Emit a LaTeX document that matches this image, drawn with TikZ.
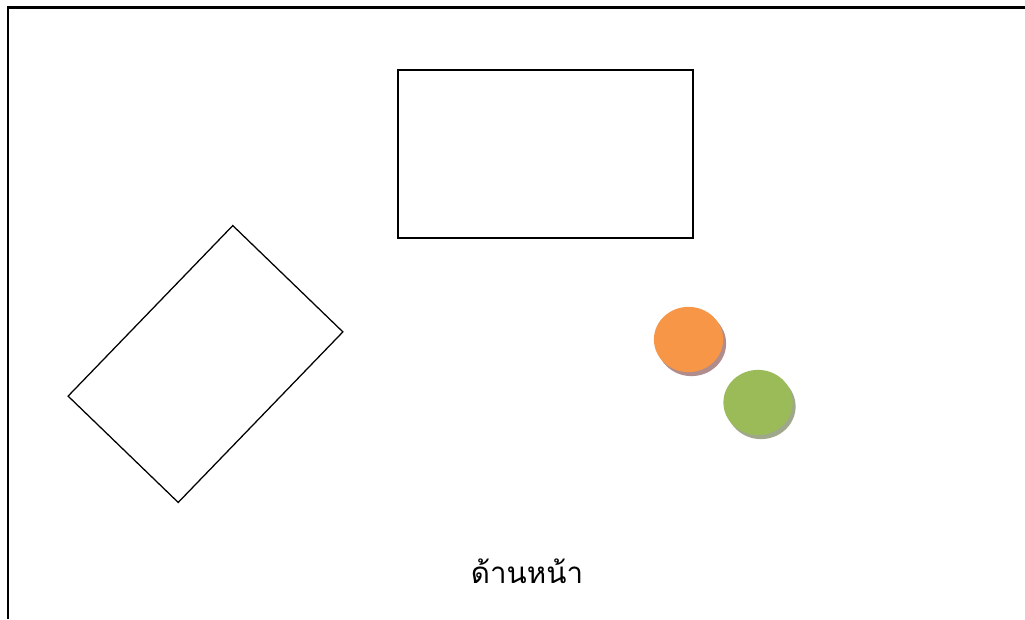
\documentclass[tikz,border=0pt]{standalone}
\usepackage{fontspec}
\newfontfamily\thaifont[Script=Thai]{Loma}
\usetikzlibrary{positioning,shapes.geometric}
\definecolor{tangerine}{RGB}{247,150,70}
\definecolor{olive}{RGB}{155,187,89}
\definecolor{rosedust}{RGB}{176,140,140}
\definecolor{sage}{RGB}{160,168,140}
\tikzset{
  frame/.style={line width=1.8pt,black},
  plate/.style={draw,line width=0.9pt,minimum width=#1},
  plate/.default=7.375cm,
  puck/.style={ellipse,fill=#1,minimum width=1.73cm,minimum height=1.63cm,inner sep=0pt},
  label/.style={font=\thaifont\fontsize{21}{25}\selectfont,inner sep=0pt},
}
\begin{document}
\begin{tikzpicture}[x=0.025cm,y=-0.025cm]
  \useasboundingbox (0,0) rectangle (1025,619);
  \draw[frame] (8,619) -- (8,7.5) -- (1025,7.5);
  % tables
  \node[plate,minimum height=4.2cm] (table) at (545.5,154) {};
  \node[plate=5.925cm,minimum height=3.825cm,rotate=46] (desk) at (205.5,364) {};
  % seats with shadow
  \node[puck=rosedust] (orangeshadow) at (691.5,343.5) {};
  \node[puck=tangerine] (orange) at (688.5,339.5) {};
  \node[puck=sage] (greenshadow) at (761,406.5) {};
  \node[puck=olive] (green) at (758,402.5) {};
  \node[label,anchor=base] (front) at (527,583) {ด้านหน้า};
\end{tikzpicture}
\end{document}
